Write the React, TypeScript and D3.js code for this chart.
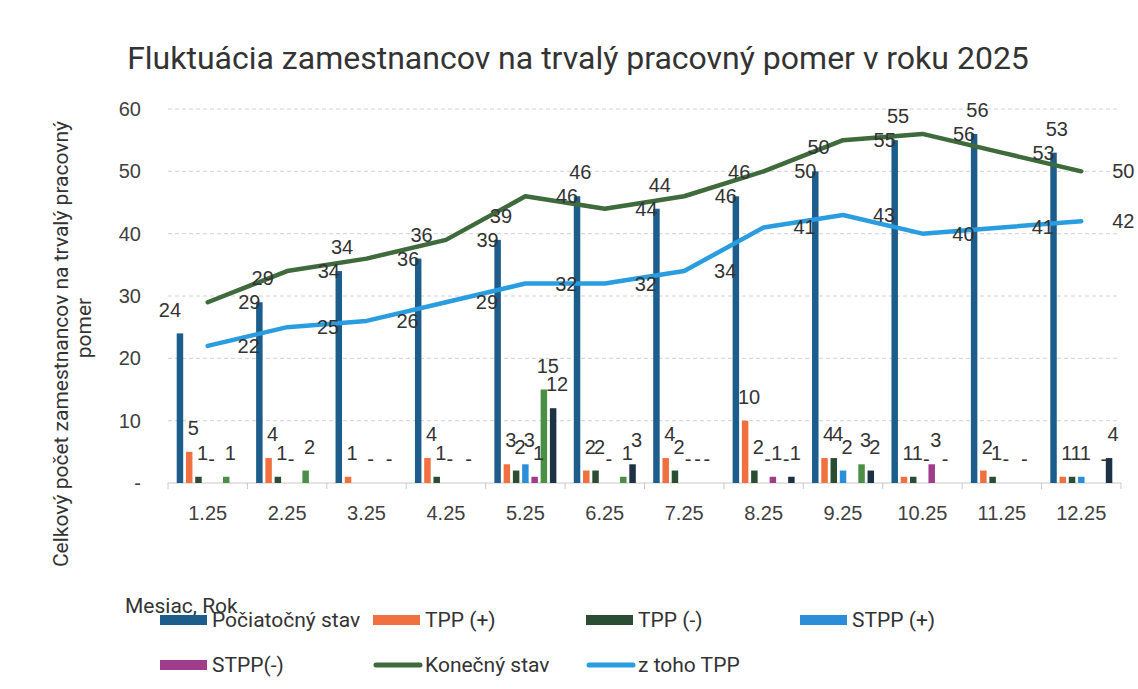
import React from 'react';
import * as d3 from 'd3';

// Fluktuácia zamestnancov 2025
const months = ['1.25', '2.25', '3.25', '4.25', '5.25', '6.25', '7.25', '8.25', '9.25', '10.25', '11.25', '12.25'];

const pociatocnyStav = [24, 29, 34, 36, 39, 46, 44, 46, 50, 55, 56, 53];
const tppPlus = [5, 4, 1, 4, 3, 2, 4, 10, 4, 1, 2, 1];
const tppMinus = [1, 1, null, 1, 2, 2, 2, 2, 4, 1, 1, 1];
const stppPlus = [0, 0, 0, 0, 3, 0, 0, 0, 2, 0, 0, 1];
const stppMinus = [null, null, null, null, 1, null, 0, 1, null, 3, null, null];
const ineStppPlus = [1, 2, 0, 0, 15, 1, 0, 0, 3, 0, 0, 0];
const ineStppMinus = [null, null, null, null, 12, 3, null, 1, 2, null, null, 4];

const konecnyStav = [29, 34, 36, 39, 46, 44, 46, 50, 55, 56, 53, 50];
const zTohoTpp = [22, 25, 26, 29, 32, 32, 34, 41, 43, 40, 41, 42];

const yTicks = [0, 10, 20, 30, 40, 50, 60];

const W = 1138;
const H = 689;

const barSeries = [
  { key: 'poc', name: 'Počiatočný stav', color: '#1c5d8c', values: pociatocnyStav },
  { key: 'tppP', name: 'TPP (+)', color: '#f0703f', values: tppPlus },
  { key: 'tppM', name: 'TPP (-)', color: '#2b4d33', values: tppMinus },
  { key: 'stppP', name: 'STPP (+)', color: '#2a8fd8', values: stppPlus },
  { key: 'stppM', name: 'STPP(-)', color: '#a03c8c', values: stppMinus },
  { key: 'ineP', name: 'Iné (+)', color: '#4a8f45', values: ineStppPlus },
  { key: 'ineM', name: 'Iné (-)', color: '#1e3246', values: ineStppMinus },
];

const lineSeries = [
  { key: 'kon', name: 'Konečný stav', color: '#3e6a3c', values: konecnyStav },
  { key: 'ztoho', name: 'z toho TPP', color: '#2a9de0', values: zTohoTpp },
];

const legendItems = [
  { name: 'Počiatočný stav', color: '#1c5d8c', type: 'rect', row: 0, col: 0 },
  { name: 'TPP (+)', color: '#f0703f', type: 'rect', row: 0, col: 1 },
  { name: 'TPP (-)', color: '#2b4d33', type: 'rect', row: 0, col: 2 },
  { name: 'STPP (+)', color: '#2a8fd8', type: 'rect', row: 0, col: 3 },
  { name: 'STPP(-)', color: '#a03c8c', type: 'rect', row: 1, col: 0 },
  { name: 'Konečný stav', color: '#3e6a3c', type: 'line', row: 1, col: 1 },
  { name: 'z toho TPP', color: '#2a9de0', type: 'line', row: 1, col: 2 },
];

const numFont = '"Liberation Sans", Arial, sans-serif';
const uiFont = 'Roboto, "Noto Sans", sans-serif';

export default function App() {
  const x = d3.scaleBand().domain(months).range([168, 1121]).padding(0);
  const bw = x.bandwidth();
  const groupW = 62;
  const xInner = d3
    .scaleBand()
    .domain(barSeries.map((s) => s.key))
    .range([(bw - groupW) / 2, (bw + groupW) / 2])
    .paddingInner(0.3)
    .paddingOuter(0);
  const y = d3.scaleLinear().domain([0, 60]).range([483, 109]);

  const cx = (m) => (x(m) as number) + bw / 2;

  const line = d3
    .line<number>()
    .x((_, i) => cx(months[i]))
    .y((d) => y(d));

  const legendCols = [160, 373, 586, 800];
  const legendRows = [620, 665];

  return (
    <svg width={W} height={H} style={{ position: 'absolute', left: 0, top: 0, background: '#fff' }}>
      <rect x={0} y={0} width={W} height={H} fill="#fff" />

      {/* title */}
      <text x={578} y={69} textAnchor="middle" fontFamily={uiFont} fontSize={32} fill="#333">
        Fluktuácia zamestnancov na trvalý pracovný pomer v roku 2025
      </text>

      {/* gridlines */}
      {yTicks.filter((t) => t > 0).map((t) => (
        <line key={t} x1={168} x2={1120} y1={y(t)} y2={y(t)} stroke="#d2d2d2" strokeDasharray="4 3" />
      ))}

      {/* y tick labels */}
      {yTicks.map((t) => (
        <text key={t} x={141} y={y(t) + 7} textAnchor="end" fontFamily={numFont} fontSize={20} fill="#404040">
          {t === 0 ? '-' : t}
        </text>
      ))}

      {/* y axis title */}
      <text transform="translate(68,344) rotate(-90)" textAnchor="middle" fontFamily={uiFont} fontSize={21} fill="#333">
        Celkový počet zamestnancov na trvalý pracovný
      </text>
      <text transform="translate(91,328) rotate(-90)" textAnchor="middle" fontFamily={uiFont} fontSize={21} fill="#333">
        pomer
      </text>

      {/* x axis */}
      <line x1={168} x2={1121} y1={483} y2={483} stroke="#c8c8c8" />
      {months.concat(['end']).map((m, i) => {
        const xx = i < months.length ? (x(m) as number) : 1121;
        return <line key={'t' + i} x1={xx} x2={xx} y1={483} y2={489} stroke="#c8c8c8" />;
      })}
      {months.map((m) => (
        <text key={m} x={cx(m)} y={520} textAnchor="middle" fontFamily={numFont} fontSize={20} fill="#404040">
          {m}
        </text>
      ))}

      {/* bars */}
      {barSeries.map((s) =>
        s.values.map((v, i) => {
          if (v == null || v === 0) return null;
          const bx = (x(months[i]) as number) + (xInner(s.key) as number);
          return (
            <rect key={s.key + i} x={bx} y={y(v)} width={xInner.bandwidth()} height={y(0) - y(v)} fill={s.color} />
          );
        })
      )}

      {/* lines */}
      {lineSeries.map((s) => (
        <path
          key={s.key}
          d={line(s.values) || ''}
          fill="none"
          stroke={s.color}
          strokeWidth={4.5}
          strokeLinecap="round"
          strokeLinejoin="round"
        />
      ))}

      {/* bar labels */}
      {barSeries.map((s) =>
        s.values.map((v, i) => {
          if (v == null) return null;
          const bcx = (x(months[i]) as number) + (xInner(s.key) as number) + xInner.bandwidth() / 2;
          if (s.key === 'poc') {
            const ly = y(v) - (i === 0 ? 23 : 0) + 7;
            return (
              <text key={'l' + s.key + i} x={bcx - 10} y={ly} textAnchor="middle" fontFamily={numFont} fontSize={20} fill="#333">
                {v}
              </text>
            );
          }
          return (
            <text key={'l' + s.key + i} x={bcx + 4} y={y(v) - 17} textAnchor="middle" fontFamily={numFont} fontSize={20} fill="#333">
              {v === 0 ? '-' : v}
            </text>
          );
        })
      )}

      {/* line labels */}
      {konecnyStav.map((v, i) => {
        const last = i === months.length - 1;
        return (
          <text key={'k' + i} x={cx(months[i]) + (last ? 42 : 55)} y={y(v) + (last ? 0 : -24) + 7} textAnchor="middle" fontFamily={numFont} fontSize={20} fill="#333">
            {v}
          </text>
        );
      })}
      {zTohoTpp.map((v, i) => {
        const last = i === months.length - 1;
        return (
          <text key={'z' + i} x={cx(months[i]) + (last ? 42 : 41)} y={y(v) + 7} textAnchor="middle" fontFamily={numFont} fontSize={20} fill="#333">
            {v}
          </text>
        );
      })}

      {/* legend */}
      <text x={125} y={613} fontFamily={uiFont} fontSize={21} fill="#333">
        Mesiac, Rok
      </text>
      {legendItems.map((it) => {
        const lx = legendCols[it.col];
        const ly = legendRows[it.row];
        return (
          <g key={it.name}>
            {it.type === 'rect' ? (
              <rect x={lx} y={ly - 5} width={47} height={10} fill={it.color} />
            ) : (
              <line x1={lx + 3} x2={lx + 47} y1={ly} y2={ly} stroke={it.color} strokeWidth={5} strokeLinecap="round" />
            )}
            <text x={lx + 52} y={ly + 7} fontFamily={uiFont} fontSize={21} fill="#333">
              {it.name}
            </text>
          </g>
        );
      })}
    </svg>
  );
}
